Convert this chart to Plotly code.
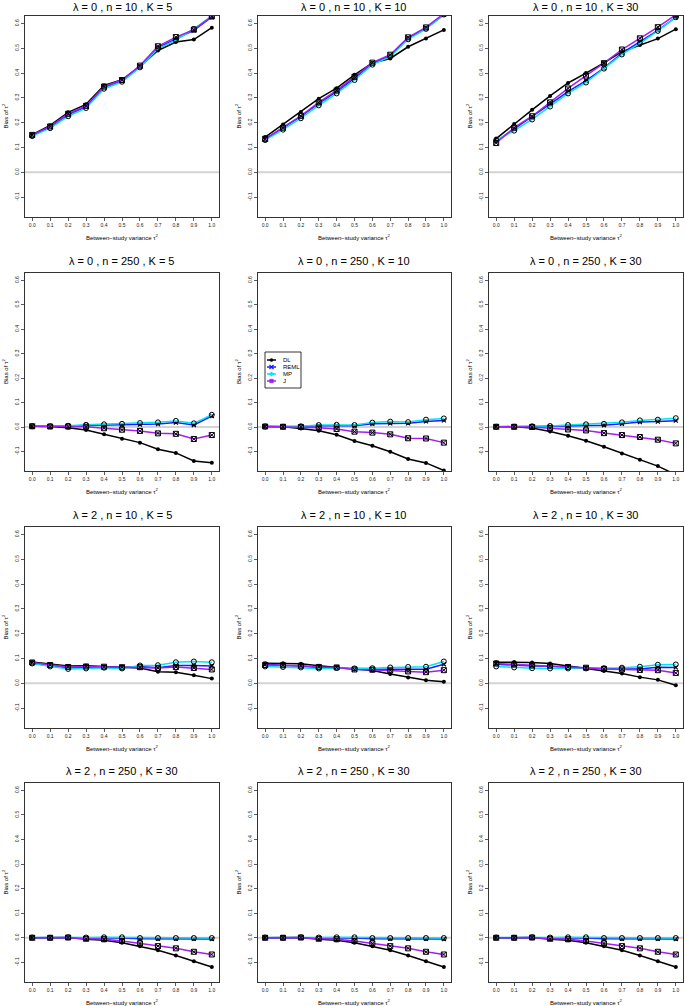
import plotly.graph_objects as go

# ---------------- data ----------------
tau2 = [0.0, 0.1, 0.2, 0.3, 0.4, 0.5, 0.6, 0.7, 0.8, 0.9, 1.0]
methods = ["DL", "REML", "MP", "J"]
x_ticks = [0.0, 0.1, 0.2, 0.3, 0.4, 0.5, 0.6, 0.7, 0.8, 0.9, 1.0]
y_ticks = [-0.1, 0.0, 0.1, 0.2, 0.3, 0.4, 0.5, 0.6]

panel_titles = [
    "λ = 0 , n = 10 , K = 5", "λ = 0 , n = 10 , K = 10", "λ = 0 , n = 10 , K = 30",
    "λ = 0 , n = 250 , K = 5", "λ = 0 , n = 250 , K = 10", "λ = 0 , n = 250 , K = 30",
    "λ = 2 , n = 10 , K = 5", "λ = 2 , n = 10 , K = 10", "λ = 2 , n = 10 , K = 30",
    "λ = 2 , n = 250 , K = 30", "λ = 2 , n = 250 , K = 30", "λ = 2 , n = 250 , K = 30",
]

# lambda=0, n=10, K=5
dl_1 = [0.152, 0.189, 0.242, 0.274, 0.350, 0.373, 0.427, 0.491, 0.525, 0.535, 0.583]
reml_1 = [0.149, 0.182, 0.232, 0.265, 0.342, 0.368, 0.426, 0.503, 0.538, 0.572, 0.626]
mp_1 = [0.146, 0.178, 0.226, 0.259, 0.337, 0.365, 0.423, 0.498, 0.533, 0.578, 0.630]
j_1 = [0.151, 0.185, 0.236, 0.268, 0.346, 0.372, 0.430, 0.508, 0.545, 0.575, 0.628]
# lambda=0, n=10, K=10
dl_2 = [0.142, 0.193, 0.243, 0.297, 0.339, 0.393, 0.441, 0.459, 0.506, 0.539, 0.574]
reml_2 = [0.133, 0.178, 0.225, 0.278, 0.325, 0.380, 0.438, 0.470, 0.540, 0.580, 0.635]
mp_2 = [0.130, 0.172, 0.218, 0.270, 0.318, 0.372, 0.434, 0.466, 0.536, 0.578, 0.636]
j_2 = [0.135, 0.180, 0.228, 0.282, 0.330, 0.385, 0.442, 0.474, 0.544, 0.584, 0.640]
# lambda=0, n=10, K=30
dl_3 = [0.136, 0.195, 0.252, 0.308, 0.360, 0.400, 0.441, 0.486, 0.513, 0.539, 0.577]
reml_3 = [0.125, 0.175, 0.222, 0.275, 0.325, 0.370, 0.420, 0.480, 0.525, 0.572, 0.625]
mp_3 = [0.130, 0.168, 0.213, 0.265, 0.318, 0.362, 0.418, 0.475, 0.520, 0.570, 0.625]
j_3 = [0.118, 0.180, 0.226, 0.282, 0.338, 0.390, 0.440, 0.495, 0.540, 0.585, 0.635]
# lambda=0, n=250, K=5
dl_4 = [0.003, 0.002, -0.003, -0.012, -0.030, -0.048, -0.064, -0.091, -0.106, -0.139, -0.146]
reml_4 = [0.003, 0.002, 0.004, 0.006, 0.007, 0.008, 0.010, 0.012, 0.018, 0.008, 0.045]
mp_4 = [0.003, 0.003, 0.005, 0.009, 0.011, 0.013, 0.016, 0.019, 0.025, 0.015, 0.050]
j_4 = [0.003, 0.002, 0.002, 0.001, -0.005, -0.011, -0.016, -0.026, -0.028, -0.049, -0.033]
# lambda=0, n=250, K=10
dl_5 = [0.002, 0.001, -0.006, -0.015, -0.032, -0.057, -0.077, -0.101, -0.131, -0.147, -0.178]
reml_5 = [0.002, 0.001, 0.002, 0.005, 0.006, 0.005, 0.013, 0.015, 0.015, 0.023, 0.027]
mp_5 = [0.002, 0.001, 0.003, 0.008, 0.009, 0.008, 0.018, 0.022, 0.020, 0.030, 0.035]
j_5 = [0.002, 0.001, 0.000, -0.003, -0.008, -0.019, -0.023, -0.030, -0.046, -0.047, -0.064]
# lambda=0, n=250, K=30
dl_6 = [0.001, 0.001, -0.004, -0.018, -0.036, -0.056, -0.081, -0.108, -0.134, -0.160, -0.195]
reml_6 = [0.001, 0.001, 0.002, 0.002, 0.004, 0.006, 0.007, 0.013, 0.020, 0.022, 0.026]
mp_6 = [0.001, 0.001, 0.003, 0.004, 0.008, 0.011, 0.013, 0.019, 0.027, 0.030, 0.036]
j_6 = [0.001, 0.001, 0.000, -0.005, -0.010, -0.014, -0.025, -0.033, -0.041, -0.052, -0.067]
# lambda=2, n=10, K=5
dl_7 = [0.086, 0.077, 0.070, 0.071, 0.068, 0.067, 0.062, 0.047, 0.045, 0.033, 0.019]
reml_7 = [0.082, 0.070, 0.062, 0.064, 0.065, 0.063, 0.068, 0.063, 0.072, 0.072, 0.070]
mp_7 = [0.080, 0.068, 0.058, 0.060, 0.063, 0.060, 0.072, 0.073, 0.085, 0.088, 0.085]
j_7 = [0.084, 0.074, 0.066, 0.068, 0.067, 0.065, 0.065, 0.062, 0.066, 0.062, 0.056]
# lambda=2, n=10, K=10
dl_8 = [0.081, 0.081, 0.079, 0.071, 0.065, 0.057, 0.052, 0.038, 0.024, 0.012, 0.006]
reml_8 = [0.078, 0.072, 0.070, 0.063, 0.063, 0.058, 0.057, 0.058, 0.057, 0.057, 0.077]
mp_8 = [0.068, 0.066, 0.064, 0.060, 0.062, 0.060, 0.061, 0.064, 0.066, 0.067, 0.088]
j_8 = [0.074, 0.073, 0.071, 0.066, 0.064, 0.056, 0.055, 0.052, 0.048, 0.045, 0.053]
# lambda=2, n=10, K=30
dl_9 = [0.085, 0.086, 0.084, 0.080, 0.070, 0.062, 0.050, 0.040, 0.025, 0.014, -0.008]
reml_9 = [0.077, 0.072, 0.070, 0.069, 0.065, 0.062, 0.060, 0.058, 0.058, 0.065, 0.064]
mp_9 = [0.068, 0.064, 0.061, 0.060, 0.060, 0.060, 0.061, 0.063, 0.067, 0.075, 0.076]
j_9 = [0.080, 0.076, 0.072, 0.071, 0.066, 0.063, 0.058, 0.056, 0.054, 0.053, 0.042]
# lambda=2, n=250, K=30 (shown three times)
dl_10 = [0.000, 0.000, 0.001, -0.006, -0.010, -0.020, -0.034, -0.051, -0.072, -0.096, -0.119]
reml_10 = [0.000, 0.000, 0.001, -0.001, -0.001, -0.001, -0.004, -0.004, -0.004, -0.004, -0.005]
mp_10 = [0.001, 0.000, 0.002, 0.001, 0.002, 0.002, -0.001, -0.001, -0.001, -0.001, -0.001]
j_10 = [0.000, 0.000, 0.001, -0.004, -0.006, -0.013, -0.023, -0.034, -0.043, -0.057, -0.068]

panels = [
    (dl_1, reml_1, mp_1, j_1), (dl_2, reml_2, mp_2, j_2), (dl_3, reml_3, mp_3, j_3),
    (dl_4, reml_4, mp_4, j_4), (dl_5, reml_5, mp_5, j_5), (dl_6, reml_6, mp_6, j_6),
    (dl_7, reml_7, mp_7, j_7), (dl_8, reml_8, mp_8, j_8), (dl_9, reml_9, mp_9, j_9),
    (dl_10, reml_10, mp_10, j_10), (dl_10, reml_10, mp_10, j_10), (dl_10, reml_10, mp_10, j_10),
]

# ---------------- styling ----------------
W, H = 685, 1006
FONT = "Liberation Sans, Arial, sans-serif"
line_colors = {"DL": "#000000", "REML": "#1a1aff", "MP": "#00e5ee", "J": "#a020f0"}
markers = {
    "DL": dict(symbol="circle", size=4, color="#000000"),
    "REML": dict(symbol="x-thin-open", size=4, color="#000000", line=dict(width=1.2, color="#000000")),
    "MP": dict(symbol="circle-open", size=5, color="#000000", line=dict(width=1, color="#000000")),
    "J": dict(symbol="square-x-open", size=5, color="#000000", line=dict(width=1, color="#000000")),
}

col_px = [(25, 219), (258, 451), (489, 683)]
row_px = [(16, 217), (273, 471), (527, 728), (783, 982)]


def px2x(p):
    return p / W


def px2y(p):
    return 1 - p / H


fig = go.Figure()
annotations = []
shapes = []

for idx in range(12):
    r, c = divmod(idx, 3)
    ax = "" if idx == 0 else str(idx + 1)
    xa, ya = "x" + ax, "y" + ax
    x0, x1 = col_px[c]
    y0, y1 = row_px[r]
    fig.update_layout(**{
        "xaxis" + ax: dict(
            domain=[px2x(x0), px2x(x1)], anchor=ya, range=[-0.04, 1.04],
            tickvals=x_ticks, ticktext=[f"{v:.1f}" for v in x_ticks],
            ticks="outside", ticklen=3, tickwidth=0.8, tickcolor="#333",
            tickfont=dict(size=5, color="#222", family=FONT),
            showgrid=False, zeroline=False, showline=True, linecolor="#333",
            linewidth=1, mirror=True, fixedrange=True,
        ),
        "yaxis" + ax: dict(
            domain=[px2y(y1), px2y(y0)], anchor=xa, range=[-0.18, 0.63],
            tickvals=y_ticks, ticktext=[f"{v:.1f}" for v in y_ticks],
            tickangle=-90,
            ticks="outside", ticklen=3, tickwidth=0.8, tickcolor="#333",
            tickfont=dict(size=5, color="#222", family=FONT),
            showgrid=False, zeroline=False, showline=True, linecolor="#333",
            linewidth=1, mirror=True, fixedrange=True,
        ),
    })
    # zero reference line
    shapes.append(dict(type="line", xref=xa + " domain", yref=ya, x0=0, x1=1, y0=0, y1=0,
                       line=dict(color="#d3d3d3", width=2), layer="below"))
    for m, series in zip(methods, panels[idx]):
        fig.add_trace(go.Scatter(
            x=tau2, y=series, mode="lines+markers", name=m, showlegend=False,
            line=dict(color=line_colors[m], width=1.5), marker=markers[m],
            xaxis=xa, yaxis=ya, cliponaxis=True, hoverinfo="skip",
        ))
    cx = px2x((x0 + x1) / 2)
    ty = max(y0 - 12, 7)
    annotations.append(dict(text=panel_titles[idx], x=cx, y=px2y(ty), xref="paper", yref="paper",
                            showarrow=False, xanchor="center", yanchor="middle",
                            font=dict(size=11, color="#000", family=FONT)))
    annotations.append(dict(text="Between\u2212study variance τ<sup>2</sup>", x=cx, y=px2y(y1 + 20),
                            xref="paper", yref="paper", showarrow=False, xanchor="center",
                            yanchor="middle", font=dict(size=6, color="#000", family=FONT)))
    annotations.append(dict(text="Bias of τ<sup>2</sup>", x=px2x(x0 - 20), y=px2y((y0 + y1) / 2),
                            xref="paper", yref="paper", showarrow=False, textangle=-90,
                            xanchor="center", yanchor="middle",
                            font=dict(size=6, color="#000", family=FONT)))

# ---------------- manual legend (in panel row 2, col 2) ----------------
lx0, lx1, ly0, ly1 = 265, 301, 352, 388
shapes.append(dict(type="rect", xref="paper", yref="paper", x0=px2x(lx0), x1=px2x(lx1),
                   y0=px2y(ly1), y1=px2y(ly0), line=dict(color="#000", width=0.8),
                   fillcolor="white", layer="above"))
leg_y = [360, 367, 374, 381]
for m, yy in zip(methods, leg_y):
    col = line_colors[m]
    shapes.append(dict(type="line", xref="paper", yref="paper", x0=px2x(267), x1=px2x(276),
                       y0=px2y(yy), y1=px2y(yy), line=dict(color=col, width=1.5), layer="above"))
    mx = 271.5
    if m == "DL":
        shapes.append(dict(type="circle", xref="paper", yref="paper", x0=px2x(mx - 1.5), x1=px2x(mx + 1.5),
                           y0=px2y(yy + 1.5), y1=px2y(yy - 1.5), fillcolor=col, line=dict(color=col, width=0.5),
                           layer="above"))
    elif m == "REML":
        for a, b in [(-2, 2), (2, -2)]:
            shapes.append(dict(type="line", xref="paper", yref="paper", x0=px2x(mx - 2), x1=px2x(mx + 2),
                               y0=px2y(yy + a), y1=px2y(yy + b), line=dict(color=col, width=1.2), layer="above"))
    elif m == "MP":
        shapes.append(dict(type="path", xref="paper", yref="paper",
                           path=f"M {px2x(mx)} {px2y(yy - 2.2)} L {px2x(mx + 2.2)} {px2y(yy)} "
                                f"L {px2x(mx)} {px2y(yy + 2.2)} L {px2x(mx - 2.2)} {px2y(yy)} Z",
                           fillcolor=col, line=dict(color=col, width=0.5), layer="above"))
    else:
        shapes.append(dict(type="rect", xref="paper", yref="paper", x0=px2x(mx - 1.8), x1=px2x(mx + 1.8),
                           y0=px2y(yy + 1.8), y1=px2y(yy - 1.8), fillcolor=col, line=dict(color=col, width=0.5),
                           layer="above"))
    annotations.append(dict(text=m, x=px2x(281), y=px2y(yy), xref="paper", yref="paper", showarrow=False,
                            xanchor="left", yanchor="middle", font=dict(size=6, color="#000", family=FONT)))

fig.update_layout(
    width=W, height=H, margin=dict(l=0, r=0, t=0, b=0),
    paper_bgcolor="white", plot_bgcolor="white",
    annotations=annotations, shapes=shapes, showlegend=False,
    font=dict(family=FONT), hovermode=False,
)

fig.write_html(
    "out.html",
    config={"displayModeBar": False, "staticPlot": True},
    post_script="document.body.style.margin='0';document.body.style.padding='0';"
                "document.documentElement.style.overflow='hidden';",
)
